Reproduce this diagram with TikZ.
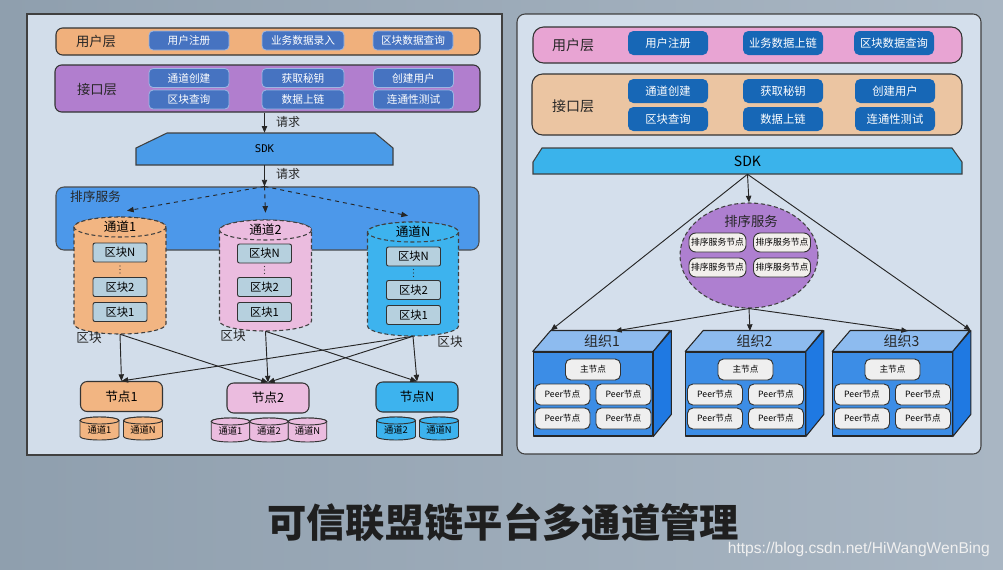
\documentclass[tikz,border=0pt]{standalone}
\usepackage{fontspec}
\setmainfont{Noto Sans CJK SC}
\newfontfamily\monof{DejaVu Sans Mono}
\newfontfamily\wmfont{Liberation Sans}
\usetikzlibrary{shapes.geometric,arrows.meta,calc}
\newcommand\PX{0.75pt}
\newcommand\FS[1]{\fontsize{#1}{#1}\selectfont}
\definecolor{colBgA}{HTML}{8F9FAE}
\definecolor{colBgB}{HTML}{A9B6C3}
\definecolor{colPanelL}{HTML}{D2DDEA}
\definecolor{colPanelR}{HTML}{D4DFEC}
\definecolor{colUserL}{HTML}{F0B07C}
\definecolor{colIfL}{HTML}{B17ECE}
\definecolor{colLbtn}{HTML}{4673C1}
\definecolor{colLbtnB}{HTML}{9DB7E3}
\definecolor{colSdkL}{HTML}{4A9BE8}
\definecolor{colOrdL}{HTML}{4C98EA}
\definecolor{colC1}{HTML}{F2B582}
\definecolor{colC2}{HTML}{EBBCDF}
\definecolor{colCN}{HTML}{3DB3EE}
\definecolor{colBlk}{HTML}{B6D0DE}
\definecolor{colUserR}{HTML}{E8A4D3}
\definecolor{colIfR}{HTML}{EBC5A2}
\definecolor{colRbtn}{HTML}{1767B6}
\definecolor{colSdkR}{HTML}{3AB3EB}
\definecolor{colOrdR}{HTML}{AE7FD0}
\definecolor{colNodeW}{HTML}{F2EFEC}
\definecolor{colOrgF}{HTML}{3C8DE6}
\definecolor{colOrgT}{HTML}{8DBBEF}
\definecolor{colOrgS}{HTML}{1F79E2}
\definecolor{colInner}{HTML}{EFEFEF}
\newcommand\drawcyl[6]{%
 \draw[#6] (#1-#4,#2+#5) -- (#1-#4,#3-#5) arc[start angle=180,end angle=0,x radius=#4,y radius=#5] -- (#1+#4,#2+#5) arc[start angle=0,end angle=-180,x radius=#4,y radius=#5] -- cycle;
 \draw[#6] (#1,#2+#5) ellipse[x radius=#4,y radius=#5];
}
\newcommand\vdotsat[2]{%
 \foreach \dy in {-3.5,0,3.5}{\fill[black!80] (#1,#2+\dy) circle[radius=0.7];}
}
\tikzset{
 bar/.style={draw=black!80, line width=0.8pt, rounded corners=5pt},
 lbl/.style={text=black!85},
 lbtn/.style={draw=colLbtnB, line width=0.6pt, fill=colLbtn, rounded corners=3pt, text=white, font=\FS{8pt}, minimum width=80*\PX, minimum height=19*\PX},
 rbtn/.style={fill=colRbtn, rounded corners=4pt, text=white, font=\FS{8.5pt}, minimum width=80*\PX, minimum height=24*\PX},
 arr/.style={-{Triangle[length=5pt,width=4pt]}, line width=0.7pt, draw=black!85},
 blk/.style={draw=black!80, line width=0.7pt, fill=colBlk, rounded corners=1.5pt, minimum width=54*\PX, minimum height=19*\PX, font=\FS{8.5pt}},
 cylL/.style={draw=black!75, line width=0.8pt, dash pattern=on 3pt off 2pt},
 scyl/.style={draw=black!80, line width=0.7pt},
 nodeL/.style={draw=black!80, line width=0.8pt, rounded corners=5pt, minimum width=82*\PX, minimum height=30*\PX, font=\FS{9.5pt}},
 onode/.style={draw=black!80, line width=0.7pt, fill=colNodeW, rounded corners=5pt, minimum width=57*\PX, minimum height=19*\PX, font=\FS{6.6pt}},
 inr/.style={draw=black!80, line width=0.7pt, fill=colInner, rounded corners=4pt, minimum width=55*\PX, minimum height=21*\PX, font=\FS{6.5pt}},
 orgedge/.style={draw=black!85, line width=0.8pt, line join=round},
}
\begin{document}
\begin{tikzpicture}[x=0.75pt,y=-0.75pt, every node/.style={inner sep=0pt}]
\useasboundingbox (0,0) rectangle (1003,569);
\shade[left color=colBgA, right color=colBgB] (0,0) rectangle (1003,569);

% ---------------- left panel ----------------
\draw[draw=black!75, line width=0.8pt, fill=colPanelL] (27,14) rectangle (502,455);

\node[bar, fill=colUserL, minimum width=424*\PX, minimum height=27*\PX] (userL) at (268,41.5) {};
\node[lbl, font=\FS{10pt}] (userLlbl) at (96,41.5) {用户层};
\node[lbtn] (ub1) at (189,40.5) {用户注册};
\node[lbtn, minimum width=82*\PX] (ub2) at (303,40.5) {业务数据录入};
\node[lbtn] (ub3) at (413,40.5) {区块数据查询};

\node[bar, fill=colIfL, minimum width=425*\PX, minimum height=47*\PX] (ifaceL) at (267.5,88.5) {};
\node[lbl, font=\FS{10pt}] (ifaceLlbl) at (97,89) {接口层};
\node[lbtn] (ib1) at (189,78) {通道创建};
\node[lbtn, minimum width=82*\PX] (ib2) at (303,78) {获取秘钥};
\node[lbtn] (ib3) at (413.5,78) {创建用户};
\node[lbtn] (ib4) at (189,99.5) {区块查询};
\node[lbtn, minimum width=82*\PX] (ib5) at (303,99.5) {数据上链};
\node[lbtn] (ib6) at (413.5,99.5) {连通性测试};

\draw[draw=black!75, line width=0.8pt, fill=colSdkL] (136,165) -- (136,148) -- (167,133) -- (375,133) -- (393,148) -- (393,165) -- cycle;
\node[font=\monof\FS{8pt}, minimum width=257*\PX, minimum height=32*\PX] (sdkL) at (264.5,149) {SDK};
\draw[arr] (ifaceL.south -| sdkL.north) -- (sdkL.north);
\node[lbl, font=\FS{9pt}] (req1) at (288,122) {请求};

\node[bar, draw=black!70, fill=colOrdL, rounded corners=6pt, minimum width=423*\PX, minimum height=63*\PX] (ordL) at (267.5,218.5) {};
\node[lbl, font=\FS{9.5pt}] (ordLlbl) at (95.5,197) {排序服务};
\coordinate (split) at (ordL.north -| sdkL.south);
\draw[arr] (sdkL.south) -- (split);
\node[lbl, font=\FS{9pt}] (req2) at (288,174) {请求};

\node[minimum width=92*\PX, minimum height=117*\PX] (c1) at (120,275.5) {};
\node[minimum width=92*\PX, minimum height=111*\PX] (c2) at (265.5,275.5) {};
\node[minimum width=91*\PX, minimum height=114*\PX] (cN) at (413,279) {};
\draw[arr, dashed] (split) -- ($(c1.north)+(7,-6)$);
\draw[arr, dashed] (split) -- ($(c2.north)+(0,-7)$);
\draw[arr, dashed] (split) -- ($(cN.north)+(-5,-6)$);

\drawcyl{120}{217}{334}{46}{10}{cylL, fill=colC1}
\drawcyl{265.5}{220}{331}{46}{10}{cylL, fill=colC2}
\drawcyl{413}{222}{336}{45.5}{10}{cylL, fill=colCN}
\node[font=\FS{9.5pt}] (c1lbl) at (120,227) {通道1};
\node[font=\FS{9.5pt}] (c2lbl) at (265.5,229.5) {通道2};
\node[font=\FS{9.5pt}] (cNlbl) at (413,232) {通道N};

\node[blk] (b1n) at (120,252.5) {区块N};
\vdotsat{120}{269.5}
\node[blk] (b12) at (120,287) {区块2};
\node[blk] (b11) at (120,312) {区块1};
\node[blk] (b2n) at (264.5,253.5) {区块N};
\vdotsat{264.5}{270}
\node[blk] (b22) at (264.5,287) {区块2};
\node[blk] (b21) at (264.5,312) {区块1};
\node[blk] (bNn) at (413.5,256.5) {区块N};
\vdotsat{413.5}{273}
\node[blk] (bN2) at (413.5,290) {区块2};
\node[blk] (bN1) at (413.5,315) {区块1};

\node[lbl, font=\FS{9.5pt}] (k1) at (89,338) {区块};
\node[lbl, font=\FS{9.5pt}] (k2) at (233,336) {区块};
\node[lbl, font=\FS{9.5pt}] (k3) at (450,342) {区块};

\node[nodeL, fill=colC1] (n1) at (121.5,396.5) {节点1};
\node[nodeL, fill=colC2] (n2) at (268,398) {节点2};
\node[nodeL, fill=colCN] (nN) at (417,397) {节点N};

\draw[arr] (c1.south) -- (n1.north);
\draw[arr] (c1.south) -- (n2.north);
\draw[arr] (c2.south) -- (n2.north);
\draw[arr] (c2.south) -- (nN.north);
\draw[arr] (cN.south) -- (nN.north);
\draw[arr] (cN.south) -- (n1.north);
\draw[arr] (cN.south) -- (n2.north);

\drawcyl{99.5}{417}{440}{19.5}{3.5}{scyl, fill=colC1}
\drawcyl{143}{417}{440}{19.5}{3.5}{scyl, fill=colC1}
\node[font=\FS{7pt}] (s11) at (99.5,429.5) {通道1};
\node[font=\FS{7pt}] (s12) at (143,429.5) {通道N};
\drawcyl{230.5}{418}{442}{19.25}{3.5}{scyl, fill=colC2}
\drawcyl{269}{418}{442}{19.25}{3.5}{scyl, fill=colC2}
\drawcyl{307.5}{418}{442}{19.25}{3.5}{scyl, fill=colC2}
\node[font=\FS{7pt}] (s21) at (230.5,430.5) {通道1};
\node[font=\FS{7pt}] (s22) at (269,430.5) {通道2};
\node[font=\FS{7pt}] (s23) at (307.5,430.5) {通道N};
\drawcyl{396}{417}{440}{19.5}{3.5}{scyl, fill=colCN}
\drawcyl{439}{417}{440}{19.5}{3.5}{scyl, fill=colCN}
\node[font=\FS{7pt}] (sN1) at (396,429.5) {通道2};
\node[font=\FS{7pt}] (sN2) at (439,429.5) {通道N};

% ---------------- right panel ----------------
\draw[draw=black!75, line width=0.8pt, fill=colPanelR, rounded corners=6pt] (517,14) rectangle (981,454);

\node[bar, fill=colUserR, rounded corners=8pt, minimum width=429*\PX, minimum height=36*\PX] (userR) at (747.5,45) {};
\node[lbl, font=\FS{10.5pt}] (userRlbl) at (573,45) {用户层};
\node[rbtn] (rb1) at (668,43) {用户注册};
\node[rbtn] (rb2) at (783,43) {业务数据上链};
\node[rbtn] (rb3) at (894,43) {区块数据查询};

\node[bar, fill=colIfR, rounded corners=8pt, minimum width=430*\PX, minimum height=61*\PX] (ifaceR) at (747,104.5) {};
\node[lbl, font=\FS{10.5pt}] (ifaceRlbl) at (573,106) {接口层};
\node[rbtn] (ri1) at (668,91) {通道创建};
\node[rbtn] (ri2) at (783,91) {获取秘钥};
\node[rbtn] (ri3) at (895,91) {创建用户};
\node[rbtn] (ri4) at (668,119) {区块查询};
\node[rbtn] (ri5) at (783,119) {数据上链};
\node[rbtn] (ri6) at (895,119) {连通性测试};

\draw[draw=black!75, line width=0.8pt, fill=colSdkR] (533,174) -- (533,162) -- (542,148) -- (952,148) -- (962,162) -- (962,174) -- cycle;
\node[font=\FS{10.5pt}, minimum width=429*\PX, minimum height=26*\PX] (sdkR) at (747.5,161) {SDK};

\node[ellipse, draw=black!75, line width=0.8pt, dash pattern=on 3pt off 2pt, fill=colOrdR, minimum width=138*\PX, minimum height=105*\PX] (ordR) at (749,255.5) {};
\node[lbl, font=\FS{10pt}] (ordRlbl) at (751,221) {排序服务};
\node[onode] (on1) at (717.5,242.5) {排序服务节点};
\node[onode] (on2) at (782,242.5) {排序服务节点};
\node[onode] (on3) at (717.5,267.5) {排序服务节点};
\node[onode] (on4) at (782,267.5) {排序服务节点};

\foreach \i/\cx in {1/593,2/745.5,3/892.5}{
  \node[orgedge, fill=colOrgF, minimum width=119.5*\PX, minimum height=84*\PX] (o\i) at (\cx,394) {};
  \draw[orgedge, fill=colOrgT] (o\i.north west) -- ++(18,-21) -- ++(119.5,0) -- (o\i.north east) -- cycle;
  \draw[orgedge, fill=colOrgS] (o\i.north east) -- ++(18,-21) -- ++(0,84) -- (o\i.south east) -- cycle;
  \coordinate (o\i-bl) at ($(o\i.north west)+(18,-21)$);
  \coordinate (o\i-br) at ($(o\i.north east)+(18,-21)$);
  \node[font=\FS{10.5pt}, text=black!85] (o\i-lbl) at ($(o\i.north)+(9,-10.5)$) {组织\i};
  \node[inr] (o\i-m) at ($(o\i.center)+(0,-24.5)$) {主节点};
  \node[inr] (o\i-p1) at ($(o\i.center)+(-30.5,0.5)$) {Peer节点};
  \node[inr] (o\i-p2) at ($(o\i.center)+(30.5,0.5)$) {Peer节点};
  \node[inr] (o\i-p3) at ($(o\i.center)+(-30.5,24.5)$) {Peer节点};
  \node[inr] (o\i-p4) at ($(o\i.center)+(30.5,24.5)$) {Peer节点};
}
\coordinate (o1t) at (615,331);
\coordinate (o2t) at (750,331);
\coordinate (o3t) at (908,331);

\draw[arr] (sdkR.south) -- (ordR.north);
\draw[arr] (sdkR.south) -- (o1-bl);
\draw[arr] (sdkR.south) -- (o3-br);
\draw[arr] (ordR.south) -- (o1t);
\draw[arr] (ordR.south) -- (o2t);
\draw[arr] (ordR.south) -- (o3t);

% ---------------- title ----------------
\node[font=\bfseries\FS{29.5pt}, text=black!88] (title) at (503,522) {可信联盟链平台多通道管理};
\node[font=\wmfont\FS{11.7pt}, text=white!88!gray, anchor=east] (wm) at (990,549) {https://blog.csdn.net/HiWangWenBing};
\end{tikzpicture}
\end{document}
